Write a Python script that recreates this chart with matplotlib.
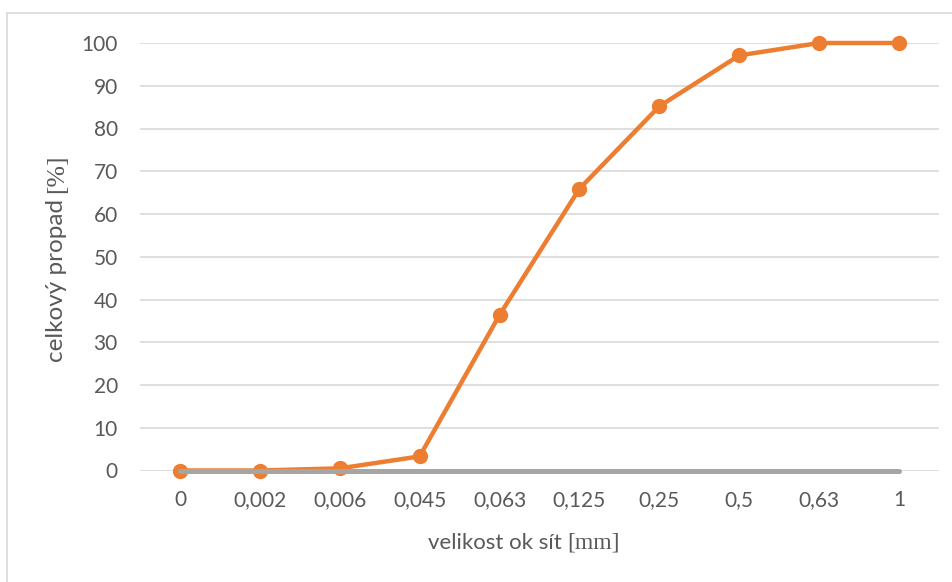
import matplotlib
matplotlib.use('Agg')
import matplotlib.pyplot as plt
from matplotlib.lines import Line2D

categories = ['0', '0,002', '0,006', '0,045', '0,063', '0,125', '0,25', '0,5', '0,63', '1']
propad = [0, 0, 0.5, 3.3, 36.4, 65.9, 85.2, 97.1, 100, 100]
zero_series = [0, 0, 0, 0, 0, 0, 0, 0, 0, 0]
yticks = list(range(0, 101, 10))

SANS = 'Lato'
SERIF = 'Liberation Serif'
TXT = '#595959'
FS = 15

W, H = 953, 582
fig = plt.figure(figsize=(W / 100, H / 100), dpi=100)
ax = fig.add_axes([140 / W, 1 - 470.5 / H, 799 / W, 427.5 / H])
x = list(range(len(categories)))
ax.plot(x, propad, color='#ED7D31', lw=3.2, marker='o', ms=10,
        zorder=3, solid_capstyle='round', clip_on=False)
ax.plot(x, zero_series, color='#A5A5A5', lw=3.6, zorder=4,
        solid_capstyle='round', clip_on=False)
ax.set_xlim(-0.5, len(categories) - 0.5)
ax.set_ylim(0, 100)
ax.set_yticks(yticks)
ax.set_xticks(x)
ax.set_xticklabels(categories)
ax.grid(axis='y', color='#D9D9D9', lw=1.2)
ax.grid(axis='x', visible=False)
ax.set_axisbelow(True)
for s in ax.spines.values():
    s.set_visible(False)
ax.tick_params(axis='both', length=0, colors=TXT, labelsize=FS)
ax.tick_params(axis='y', pad=16)
ax.tick_params(axis='x', pad=14)
for lab in ax.get_xticklabels() + ax.get_yticklabels():
    lab.set_fontfamily(SANS)

# chart frame (left and top edges visible)
fig.add_artist(Line2D([7 / W, 7 / W], [0, 1 - 13 / H], color='#D9D9D9', lw=1.2))
fig.add_artist(Line2D([7 / W, 1], [1 - 13 / H, 1 - 13 / H], color='#D9D9D9', lw=1.2))

# axis titles: sans part + serif bracket part
fig.canvas.draw()
r = fig.canvas.get_renderer()

# x title
t1 = fig.text(0, 0, 'velikost ok sít ', family=SANS, fontsize=16, color=TXT,
              ha='left', va='center')
t2 = fig.text(0, 0, '[mm]', family=SERIF, fontsize=17, color=TXT,
              ha='left', va='center')
w1 = t1.get_window_extent(r).width
w2 = t2.get_window_extent(r).width
cx, cy = 524, H - 543
x0 = cx - (w1 + w2) / 2
t1.set_position((x0 / W, cy / H))
t2.set_position(((x0 + w1) / W, cy / H))

# y title (rotated, reads bottom to top)
u1 = fig.text(0, 0, 'celkový propad ', family=SANS, fontsize=17.5, color=TXT,
              ha='center', va='bottom', rotation=90)
u2 = fig.text(0, 0, '[%]', family=SERIF, fontsize=18.5, color=TXT,
              ha='center', va='bottom', rotation=90)
h1 = u1.get_window_extent(r).height
h2 = u2.get_window_extent(r).height
ycx, ycy = 57, H - 258
y0 = ycy - (h1 + h2) / 2
u1.set_position((ycx / W, y0 / H))
u2.set_position((ycx / W, (y0 + h1) / H))

fig.savefig('out.png', dpi=100, facecolor='white')
